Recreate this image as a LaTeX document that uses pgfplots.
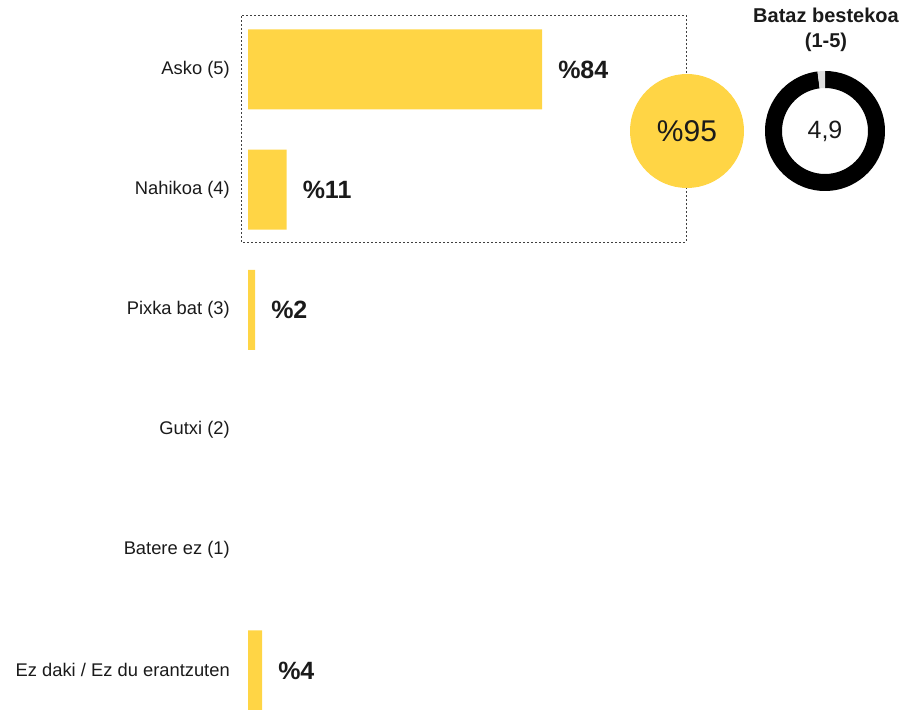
\documentclass[border=0pt]{standalone}
\usepackage{pgfplots}
\pgfplotsset{compat=1.18}
\usepackage{fontspec}
\setmainfont{Liberation Sans}
\definecolor{barY}{HTML}{FFD545}
\definecolor{txt}{HTML}{1A1A1A}
\definecolor{ringgray}{HTML}{DDDDDD}
\begin{document}
\begin{tikzpicture}[x=0.75pt,y=0.75pt]
\useasboundingbox (0,0) rectangle (904,710);
\begin{axis}[
  at={(186pt,525.5pt)}, anchor=north west,
  scale only axis, width=262.5pt, height=540.9pt,
  xbar, bar width=60pt,
  xmin=0, xmax=100, ymin=-0.5, ymax=5.5, y dir=reverse,
  ytick={0,1,2,3,4,5},
  yticklabels={Asko (5),Nahikoa (4),Pixka bat (3),Gutxi (2),Batere ez (1),Ez daki / Ez du erantzuten},
  xtick=\empty,
  axis line style={draw=none},
  major tick length=0pt,
  /pgf/number format/assume math mode=true,
  yticklabel style={font=\fontsize{13.75}{16}\selectfont, text=txt, anchor=east, inner sep=0pt, xshift=-13.5pt},
  nodes near coords={\%\pgfmathprintnumber{\pgfplotspointmeta}},
  nodes near coords style={font=\bfseries\fontsize{18.75}{22}\selectfont, text=txt, anchor=west, inner sep=0pt, xshift=12pt},
  clip=false,
]
\addplot[fill=barY, draw=none] coordinates {(84,0) (11,1) (2,2) (4,5)};
\end{axis}
\draw[dash pattern=on 1.5pt off 1.5pt, line width=0.6pt, color=black!75] (241,468) rectangle (686,695);
\fill[barY] (687,579) circle[radius=57];
\node[font=\fontsize{22.5}{26}\selectfont, text=txt] at (687,579) {\%95};
\fill[black] ([shift={(825,579)}]97.2:60) arc[start angle=97.2,end angle=450,radius=60] -- ([shift={(825,579)}]90:43) arc[start angle=450,end angle=97.2,radius=43] -- cycle;
\fill[ringgray] ([shift={(825,579)}]90:60) arc[start angle=90,end angle=97.2,radius=60] -- ([shift={(825,579)}]97.2:43) arc[start angle=97.2,end angle=90,radius=43] -- cycle;
\node[font=\fontsize{18.75}{22}\selectfont, text=txt] at (825,579) {4,9};
\node[font=\bfseries\fontsize{15}{18.75}\selectfont, text=txt, align=center] at (826,680.5) {Bataz bestekoa\\(1-5)};
\end{tikzpicture}
\end{document}
